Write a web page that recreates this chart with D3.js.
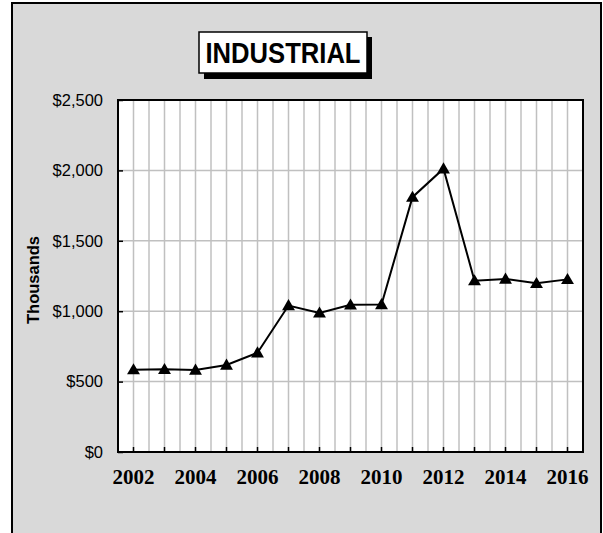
<!DOCTYPE html>
<html>
<head>
<meta charset="utf-8">
<script src="https://cdn.jsdelivr.net/npm/d3@7"></script>
<style>
  body { margin: 0; background: #fff; }
  svg { display: block; }
</style>
</head>
<body>
<svg id="chart" width="603" height="533"></svg>
<script>
var years = [2002, 2003, 2004, 2005, 2006, 2007, 2008, 2009, 2010, 2011, 2012, 2013, 2014, 2015, 2016];
var values = [585, 587, 582, 618, 705, 1040, 988, 1045, 1048, 1810, 2012, 1217, 1229, 1198, 1226];
var yTicks = [0, 500, 1000, 1500, 2000, 2500];
var xLabels = [2002, 2004, 2006, 2008, 2010, 2012, 2014, 2016];
var title = "INDUSTRIAL";
var yTitle = "Thousands";

var svg = d3.select("#chart"),
    width = +svg.attr("width"),
    height = +svg.attr("height");

var plot = {left: 118, top: 100, right: 583, bottom: 452};

// outer frame
svg.append("rect")
  .attr("x", 12).attr("y", 3)
  .attr("width", 589).attr("height", height + 10)
  .style("fill", "#d9d9d9")
  .style("stroke", "#000")
  .style("stroke-width", 2);

var x = d3.scaleBand()
  .domain(years)
  .range([plot.left, plot.right]);

var y = d3.scaleLinear()
  .domain([0, 2500])
  .range([plot.bottom, plot.top]);

// plot background
svg.append("rect")
  .attr("x", plot.left).attr("y", plot.top)
  .attr("width", plot.right - plot.left).attr("height", plot.bottom - plot.top)
  .style("fill", "#fff");

// vertical gridlines: at band centers and band edges
var vLines = [];
years.forEach(function(d, i) {
  if (i > 0) vLines.push(x(d));
  vLines.push(x(d) + x.bandwidth() / 2);
});
svg.append("g")
  .selectAll("line")
  .data(vLines)
  .enter().append("line")
  .attr("x1", function(d) { return d; })
  .attr("x2", function(d) { return d; })
  .attr("y1", plot.top)
  .attr("y2", plot.bottom)
  .style("stroke", "#c0c0c0")
  .style("stroke-width", 1.5);

// horizontal gridlines
svg.append("g")
  .selectAll("line")
  .data(yTicks.slice(1, -1))
  .enter().append("line")
  .attr("x1", plot.left)
  .attr("x2", plot.right)
  .attr("y1", function(d) { return y(d); })
  .attr("y2", function(d) { return y(d); })
  .style("stroke", "#c0c0c0")
  .style("stroke-width", 1.5);

// y axis
var yAxis = svg.append("g")
  .attr("transform", "translate(" + plot.left + ",0)")
  .call(d3.axisLeft(y).tickValues(yTicks).tickSize(-5).tickPadding(15)
    .tickFormat(function(d) { return "$" + d3.format(",")(d); }));
yAxis.select(".domain").remove();
yAxis.selectAll("line").style("stroke", "#000").style("stroke-width", 1.5);
yAxis.selectAll("text")
  .style("font-family", "Arial, 'Liberation Sans', sans-serif")
  .style("font-size", "16.5px")
  .style("fill", "#000");

// x axis
var xAxis = svg.append("g")
  .attr("transform", "translate(0," + plot.bottom + ")")
  .call(d3.axisBottom(x).tickSize(-5).tickPadding(17)
    .tickFormat(function(d) { return xLabels.indexOf(d) >= 0 ? d : ""; }));
xAxis.select(".domain").remove();
xAxis.selectAll("line").style("stroke", "#000").style("stroke-width", 1.5);
xAxis.selectAll("text")
  .style("font-family", "'Times New Roman', 'Liberation Serif', serif")
  .style("font-weight", "bold")
  .style("font-size", "21px")
  .style("fill", "#000");

// plot border
svg.append("rect")
  .attr("x", plot.left).attr("y", plot.top)
  .attr("width", plot.right - plot.left).attr("height", plot.bottom - plot.top)
  .style("fill", "none")
  .style("stroke", "#000")
  .style("stroke-width", 2);

// line
var line = d3.line()
  .x(function(d, i) { return x(years[i]) + x.bandwidth() / 2; })
  .y(function(d) { return y(d); });

svg.append("path")
  .datum(values)
  .attr("d", line)
  .style("fill", "none")
  .style("stroke", "#000")
  .style("stroke-width", 2);

svg.append("g")
  .selectAll("path")
  .data(values)
  .enter().append("path")
  .attr("transform", function(d, i) {
    return "translate(" + (x(years[i]) + x.bandwidth() / 2) + "," + (y(d) + 1) + ")";
  })
  .attr("d", d3.symbol().type(d3.symbolTriangle).size(72))
  .style("fill", "#000");

// y title
svg.append("text")
  .attr("transform", "translate(39,280) rotate(-90)")
  .attr("text-anchor", "middle")
  .style("font-family", "Arial, 'Liberation Sans', sans-serif")
  .style("font-weight", "bold")
  .style("font-size", "16.5px")
  .text(yTitle);

// title box with shadow
svg.append("rect")
  .attr("x", 204).attr("y", 37)
  .attr("width", 168).attr("height", 42)
  .style("fill", "#000");
svg.append("rect")
  .attr("x", 199).attr("y", 32)
  .attr("width", 168).attr("height", 41)
  .style("fill", "#fff")
  .style("stroke", "#000")
  .style("stroke-width", 1.5);
svg.append("text")
  .attr("x", 283).attr("y", 63)
  .attr("text-anchor", "middle")
  .attr("textLength", 155)
  .attr("lengthAdjust", "spacingAndGlyphs")
  .style("font-family", "Arial, 'Liberation Sans', sans-serif")
  .style("font-weight", "bold")
  .style("font-size", "30px")
  .text(title);
</script>
</body>
</html>
